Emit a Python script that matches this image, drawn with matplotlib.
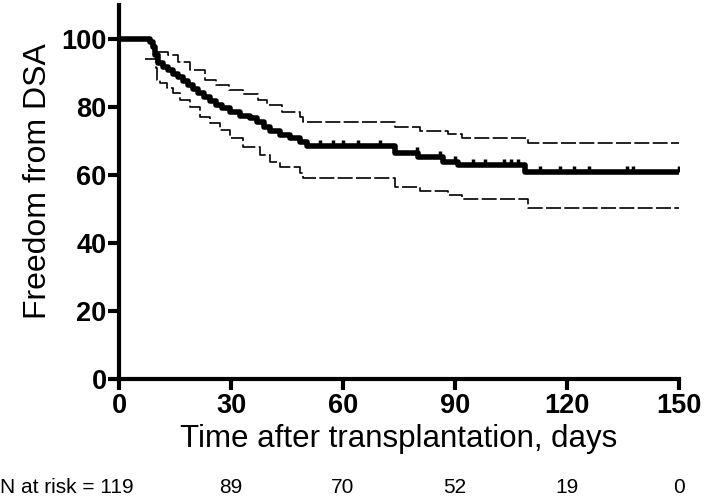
import numpy as np
import matplotlib
matplotlib.use("Agg")
import matplotlib.pyplot as plt

# Kaplan-Meier estimate (days, % free from DSA)
km_days = [0, 8.3, 9.1, 9.6, 10.4, 11.8, 13.1, 14.5, 15.8, 17.1, 18.5, 19.8,
           21.2, 22.8, 24.4, 26.0, 27.6, 29.7, 32.4, 35.1, 37.0, 38.8, 40.5,
           43.1, 45.8, 48.5, 50.4, 73.9, 80.1, 86.8, 90.8, 108.8, 150]
km_surv = [100, 99.1, 97.6, 95.3, 92.9, 91.8, 90.9, 89.7, 88.8, 87.6, 86.5, 85.3,
           84.1, 82.9, 81.8, 80.6, 79.7, 78.5, 77.4, 76.8, 75.6, 74.1, 72.9,
           71.8, 70.9, 69.7, 68.5, 66.5, 65.3, 63.8, 62.9, 60.9, 60.9]

# 95% confidence band
upper_days = [10.2, 13.1, 15.8, 19.0, 23.0, 26.0, 29.5, 33.2, 37.2, 39.6, 43.6,
              48.5, 49.3, 74.0, 80.6, 88.0, 92.0, 109.6, 150]
upper_vals = [96.2, 95.3, 93.2, 90.9, 88.0, 86.5, 85.0, 83.8, 82.0, 80.6, 78.5,
              77.0, 75.6, 74.1, 73.0, 72.0, 70.9, 69.4, 69.4]
lower_days = [7.0, 9.9, 10.2, 11.0, 12.9, 14.5, 16.3, 19.0, 21.7, 24.4, 27.0,
              29.7, 33.2, 37.7, 40.5, 43.1, 48.5, 49.3, 74.0, 80.6, 88.0, 92.0,
              109.6, 150]
lower_vals = [94.1, 91.5, 87.9, 87.0, 85.6, 84.1, 82.0, 80.0, 77.0, 75.3, 73.2,
              70.9, 68.2, 65.9, 63.8, 62.4, 60.6, 59.1, 56.5, 55.3, 54.1, 52.9,
              50.3, 50.3]

# censored observations
censor_days = [53.8, 57.3, 60.0, 64.0, 70.0, 79.8, 86.0, 90.0, 94.8, 98.0,
               103.0, 105.0, 107.0, 112.8, 118.0, 122.0, 126.0, 136.0, 137.7, 150]

xticks = [0, 30, 60, 90, 120, 150]
yticks = [0, 20, 40, 60, 80, 100]
at_risk = [119, 89, 70, 52, 19, 0]

plt.rcParams['font.family'] = ['Liberation Sans', 'DejaVu Sans']

fig = plt.figure(figsize=(7.06, 5.03), dpi=100)
ax = fig.add_axes([0.1686, 0.2465, 0.7932, 0.7435])


def surv_at(t):
    idx = np.searchsorted(km_days, t, side='right') - 1
    return km_surv[idx]


ax.plot(km_days, km_surv, drawstyle='steps-post', color='black', lw=4,
        solid_capstyle='butt', zorder=3)
# upward censor ticks
ax.plot(censor_days, [surv_at(t) for t in censor_days], ls='none',
        marker=[(0, 0), (0, 1)], ms=9, mew=2.5, color='black', zorder=3)
ax.plot(upper_days, upper_vals, drawstyle='steps-post', color='black', lw=1.2,
        ls=(0, (9, 2)))
ax.plot(lower_days, lower_vals, drawstyle='steps-post', color='black', lw=1.2,
        ls=(0, (9, 2)))

ax.set_xlim(0, 150)
ax.set_ylim(0, 110)
ax.set_xticks(xticks)
ax.set_yticks(yticks)
for s in ['top', 'right']:
    ax.spines[s].set_visible(False)
for s in ['left', 'bottom']:
    ax.spines[s].set_linewidth(3)
ax.tick_params(axis='both', width=3, length=8, labelsize=19.5, direction='out')
ax.tick_params(axis='y', pad=1)
ax.tick_params(axis='x', pad=2)
for lab in ax.get_xticklabels() + ax.get_yticklabels():
    lab.set_fontweight('bold')

ax.set_ylabel('Freedom from DSA', fontsize=23)
ax.yaxis.set_label_coords(-0.118, 0.53)
ax.set_xlabel('Time after transplantation, days', fontsize=22.5, labelpad=4)

# number at risk row
fig.text(0.0, 0.031, 'N at risk = %d' % at_risk[0], fontsize=15, ha='left',
         va='center')
for t, n in zip(xticks[1:], at_risk[1:]):
    xf = ax.transData.transform((t, 0))[0] / fig.bbox.width
    fig.text(xf, 0.031, str(n), fontsize=15, ha='center', va='center')

fig.savefig('out.png', dpi=100)
